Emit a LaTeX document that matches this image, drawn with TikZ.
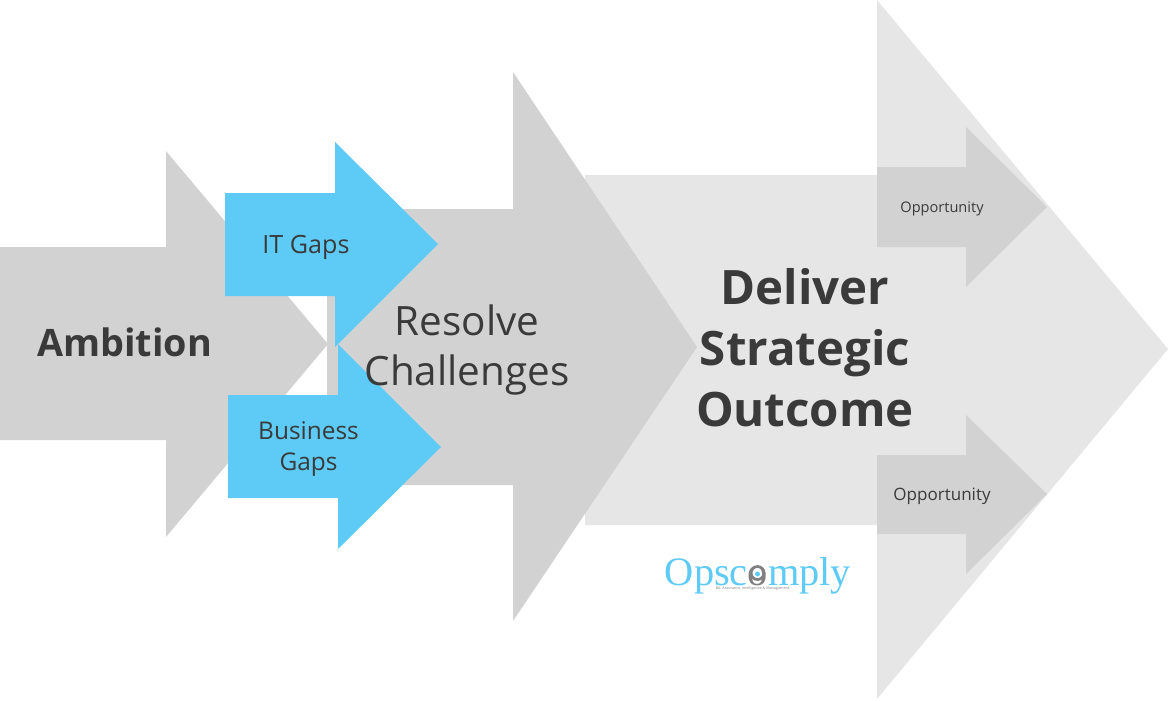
\documentclass[tikz,border=0pt]{standalone}
\usepackage{fontspec}
\setmainfont{Open Sans}
\newfontfamily\logofont{Liberation Serif}
\definecolor{arrowgrey}{HTML}{D2D2D2}
\definecolor{arrowlight}{HTML}{E6E6E6}
\definecolor{gapblue}{HTML}{5ECBF7}
\definecolor{labelgrey}{HTML}{3A3A3A}
\tikzset{
  bigarrow/.style={fill=arrowgrey},
  lightarrow/.style={fill=arrowlight},
  gaparrow/.style={fill=gapblue},
  label/.style={text=labelgrey, align=center, inner sep=0pt}
}

\begin{document}
\begin{tikzpicture}[x=0.02cm, y=-0.02cm]
    \useasboundingbox (0,0) rectangle (1169,700);

    \fill[lightarrow] (585,175) -- (877,175) -- (877,0) -- (1168,349) -- (877,699) -- (877,525) -- (585,525) -- cycle;
    \fill[bigarrow] (327,209) -- (513,209) -- (513,72) -- (697,347) -- (513,621) -- (513,485) -- (327,485) -- cycle;
    \fill[bigarrow] (0,247) -- (166,247) -- (166,151) -- (328,344) -- (166,537) -- (166,440) -- (0,440) -- cycle;

    \fill[gaparrow] (225,193) -- (335,193) -- (335,142) -- (438,244) -- (335,347) -- (335,296) -- (225,296) -- cycle;
    \fill[gaparrow] (228,395) -- (338,395) -- (338,344) -- (441,447) -- (338,549) -- (338,498) -- (228,498) -- cycle;

    \fill[bigarrow] (877,167) -- (966,167) -- (966,127) -- (1047,207) -- (966,287) -- (966,247) -- (877,247) -- cycle;
    \fill[bigarrow] (877,455) -- (966,455) -- (966,415) -- (1047,494) -- (966,574) -- (966,534) -- (877,534) -- cycle;

    \node[label, font=\fontsize{21.5}{26}\selectfont\bfseries] (ambition) at (124.5,342) {Ambition};
    \node[label, font=\fontsize{23}{28.3}\selectfont] (resolve) at (467,350) {Resolve\\Challenges};
    \node[label, font=\fontsize{27}{34.8}\selectfont\bfseries] (outcome) at (805,348) {Deliver\\Strategic\\Outcome};
    \node[label, font=\fontsize{14.3}{17}\selectfont] (itgaps) at (306,247) {IT Gaps};
    \node[label, font=\fontsize{13.9}{17.5}\selectfont] (business) at (308.5,449) {Business\\Gaps};
    \node[label, font=\fontsize{8.3}{10}\selectfont] (opptop) at (942,209) {Opportunity};
    \node[label, font=\fontsize{9.7}{11}\selectfont] (oppbottom) at (942,496) {Opportunity};

    % logo
    \node[inner sep=0pt, text=gapblue, font=\fontsize{23}{25}\logofont] (logo) at (758,576) {Opsc\textcolor{gray}{o}mply};
    \draw[gray, line width=0.55mm] (757.5,573) circle (6.5);
    \fill[gapblue] (757.5,574) circle (2.5);
    \node[inner sep=0pt, text=gray, font=\fontsize{2.1}{2.5}\selectfont] (tagline) at (753,589) {BA: Assurance, Intelligence \& Management.};
\end{tikzpicture}
\end{document}
